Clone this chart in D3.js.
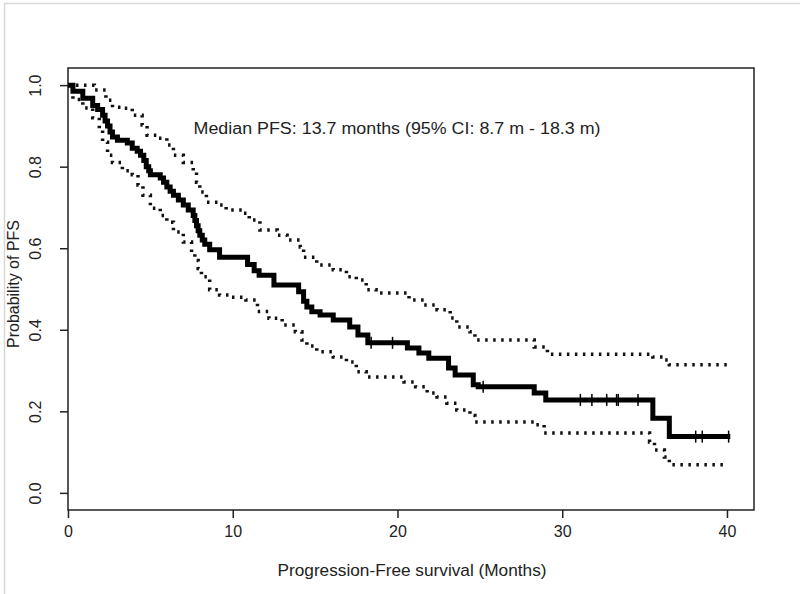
<!DOCTYPE html>
<html>
<head>
    <meta charset="UTF-8">
    <title>Progression-Free Survival</title>
    <style>
        body {
            margin: 0;
            background-color: #fff;
            font-family: "Liberation Sans", Arial, sans-serif;
        }
        .tick text {
            fill: #222;
            font-size: 16px;
        }
        .tick line, .box {
            stroke: #222;
            stroke-width: 1.5px;
        }
    </style>
    <script src="https://d3js.org/d3.v7.min.js"></script>
</head>
<body>
    <div id="chart"></div>
    <script>
        // Kaplan-Meier estimate (step times and survival after each step)
        var kmTime = [0, 0.3, 0.9, 1.5, 1.8, 2.1, 2.25, 2.4, 2.55, 2.7, 3.0, 3.6, 3.9, 4.2, 4.4, 4.6, 4.75, 4.9, 5.0, 5.6, 5.8, 6.0, 6.2, 6.4, 6.7, 7.0, 7.3, 7.6, 7.7, 7.8, 7.9, 8.0, 8.15, 8.3, 8.6, 9.2,
            10.9, 11.3, 11.6, 12.5, 14.0, 14.3, 14.5, 14.8, 15.3, 16.1, 17.1, 17.6, 18.2, 20.6, 21.3, 21.9, 23.1, 23.5,
            24.6, 24.9, 28.3, 29.0, 35.5, 36.5, 40.2];
        var kmSurv = [1.0, 0.985, 0.968, 0.95, 0.94, 0.926, 0.912, 0.9, 0.885, 0.873, 0.865, 0.858, 0.845, 0.838, 0.828, 0.815, 0.8, 0.79, 0.78, 0.772, 0.762, 0.75, 0.74, 0.73, 0.718, 0.706, 0.694, 0.68, 0.668, 0.655, 0.643, 0.632, 0.62, 0.61, 0.596, 0.578,
            0.56, 0.545, 0.534, 0.51, 0.493, 0.47, 0.456, 0.444, 0.436, 0.424, 0.407, 0.387, 0.368, 0.355, 0.343, 0.33, 0.306, 0.289,
            0.265, 0.26, 0.245, 0.228, 0.183, 0.138, 0.138];

        // upper 95% confidence bound
        var upTime = [0, 1.6, 2.3, 2.7, 3.3, 3.9, 4.5, 4.8, 5.4, 6.0, 6.4, 7.0, 7.6, 7.8, 8.0, 8.4, 9.2, 9.6, 10.6, 11.0, 11.65,
            12.7, 13.3, 14.1, 14.3, 15.1, 16.1, 16.9, 17.5, 18.1, 18.7, 20.7, 21.6, 22.4, 23.2, 23.6, 24.4, 24.7,
            28.3, 29.1, 35.5, 36.2, 36.5, 40.1];
        var upSurv = [1.0, 0.988, 0.963, 0.946, 0.943, 0.926, 0.902, 0.877, 0.87, 0.853, 0.828, 0.81, 0.787, 0.762, 0.738, 0.713, 0.706, 0.694, 0.686, 0.669, 0.645,
            0.632, 0.62, 0.603, 0.578, 0.559, 0.547, 0.53, 0.522, 0.498, 0.49, 0.473, 0.461, 0.449, 0.429, 0.407, 0.395, 0.375,
            0.358, 0.34, 0.333, 0.326, 0.314, 0.314];

        // lower 95% confidence bound
        var loTime = [0, 0.3, 0.9, 1.5, 1.9, 2.1, 2.4, 2.7, 3.3, 3.9, 4.25, 4.55, 5.0, 5.6, 6.0, 6.4, 7.0, 7.5, 7.7, 7.9, 8.1, 8.6, 9.2, 9.8,
            10.8, 11.5, 12.2, 13.0, 13.8, 14.2, 14.5, 15.1, 16.1, 16.9, 17.5, 18.1, 20.4, 21.1, 21.8, 22.4, 23.0, 23.6, 24.4, 24.7,
            28.3, 28.9, 35.3, 35.6, 36.2, 36.5, 40.0];
        var loSurv = [1.0, 0.965, 0.944, 0.92, 0.89, 0.86, 0.828, 0.81, 0.79, 0.78, 0.755, 0.73, 0.698, 0.68, 0.664, 0.64, 0.615, 0.59, 0.57, 0.55, 0.53, 0.498, 0.485, 0.48,
            0.473, 0.445, 0.428, 0.412, 0.395, 0.375, 0.36, 0.346, 0.333, 0.321, 0.297, 0.284, 0.272, 0.26, 0.245, 0.235, 0.22, 0.203, 0.19, 0.174,
            0.167, 0.147, 0.125, 0.105, 0.088, 0.069, 0.069];

        // censored observations (tick marks on the estimate)
        var censorTime = [18.4, 19.7, 25.2, 31.1, 31.8, 32.7, 33.3, 33.4, 34.6, 38.1, 38.5, 40.1];

        var xTicks = [0, 10, 20, 30, 40];
        var yTicks = [0, 0.2, 0.4, 0.6, 0.8, 1.0];

        var W = 800, H = 594;
        var box = {left: 68, right: 754, top: 68, bottom: 510};

        var svg = d3.select("#chart").append("svg")
            .attr("width", W)
            .attr("height", H);

        // light frame around the picture
        svg.append("rect")
            .attr("x", 4.5).attr("y", 3.5)
            .attr("width", W).attr("height", H)
            .attr("fill", "none")
            .attr("stroke", "#d8d8d8")
            .attr("stroke-width", 1.5);

        var x = d3.scaleLinear().domain([0, 41.64]).range([box.left, box.right]);
        var y = d3.scaleLinear().domain([-0.042, 1.042]).range([box.bottom, box.top]);

        // axes
        var xAxis = svg.append("g")
            .attr("transform", "translate(0," + box.bottom + ")")
            .call(d3.axisBottom(x).tickValues(xTicks).tickSize(8).tickPadding(8).tickFormat(d3.format("d")));
        xAxis.select(".domain").remove();

        var yAxis = svg.append("g")
            .attr("transform", "translate(" + box.left + ",0)")
            .call(d3.axisLeft(y).tickValues(yTicks).tickSize(8).tickFormat(d3.format(".1f")));
        yAxis.select(".domain").remove();
        yAxis.selectAll(".tick text")
            .attr("x", 0).attr("dy", 0)
            .attr("text-anchor", "middle")
            .attr("transform", "translate(-27,0) rotate(-90)");

        svg.selectAll(".tick text").attr("font-family", "Liberation Sans, Arial, sans-serif");

        svg.append("rect")
            .attr("class", "box")
            .attr("x", box.left).attr("y", box.top)
            .attr("width", box.right - box.left)
            .attr("height", box.bottom - box.top)
            .attr("fill", "none");

        function pairs(t, s) {
            return t.map(function (d, i) { return [d, s[i]]; });
        }

        var step = d3.line()
            .x(function (d) { return x(d[0]); })
            .y(function (d) { return y(d[1]); })
            .curve(d3.curveStepAfter);

        // confidence bounds (dotted)
        [pairs(upTime, upSurv), pairs(loTime, loSurv)].forEach(function (p) {
            svg.append("path")
                .datum(p)
                .attr("d", step)
                .attr("fill", "none")
                .attr("stroke", "#111")
                .attr("stroke-width", 3.5)
                .attr("stroke-dasharray", "2.5,5.5");
        });

        // estimate
        svg.append("path")
            .datum(pairs(kmTime, kmSurv))
            .attr("d", step)
            .attr("fill", "none")
            .attr("stroke", "#000")
            .attr("stroke-width", 5)
            .attr("stroke-linejoin", "miter");

        // censor marks
        function survAt(t) {
            var i = d3.bisectRight(kmTime, t) - 1;
            return kmSurv[Math.max(i, 0)];
        }
        svg.selectAll(".censor")
            .data(censorTime)
            .enter().append("line")
            .attr("class", "censor")
            .attr("x1", function (d) { return x(d); })
            .attr("x2", function (d) { return x(d); })
            .attr("y1", function (d) { return y(survAt(d)) - 6; })
            .attr("y2", function (d) { return y(survAt(d)) + 6; })
            .attr("stroke", "#000")
            .attr("stroke-width", 1.5);

        // annotation and titles
        svg.append("text")
            .attr("x", 397).attr("y", 134)
            .attr("text-anchor", "middle")
            .attr("font-size", 16)
            .attr("fill", "#222")
            .attr("textLength", 407)
            .attr("lengthAdjust", "spacingAndGlyphs")
            .text("Median PFS: 13.7 months (95% CI: 8.7 m - 18.3 m)");

        svg.append("text")
            .attr("x", 412).attr("y", 576)
            .attr("text-anchor", "middle")
            .attr("font-size", 17)
            .attr("fill", "#222")
            .attr("textLength", 269)
            .attr("lengthAdjust", "spacingAndGlyphs")
            .text("Progression-Free survival (Months)");

        svg.append("text")
            .attr("transform", "translate(19,284) rotate(-90)")
            .attr("text-anchor", "middle")
            .attr("font-size", 17)
            .attr("fill", "#222")
            .attr("textLength", 128)
            .attr("lengthAdjust", "spacingAndGlyphs")
            .text("Probability of PFS");
    </script>
</body>
</html>
